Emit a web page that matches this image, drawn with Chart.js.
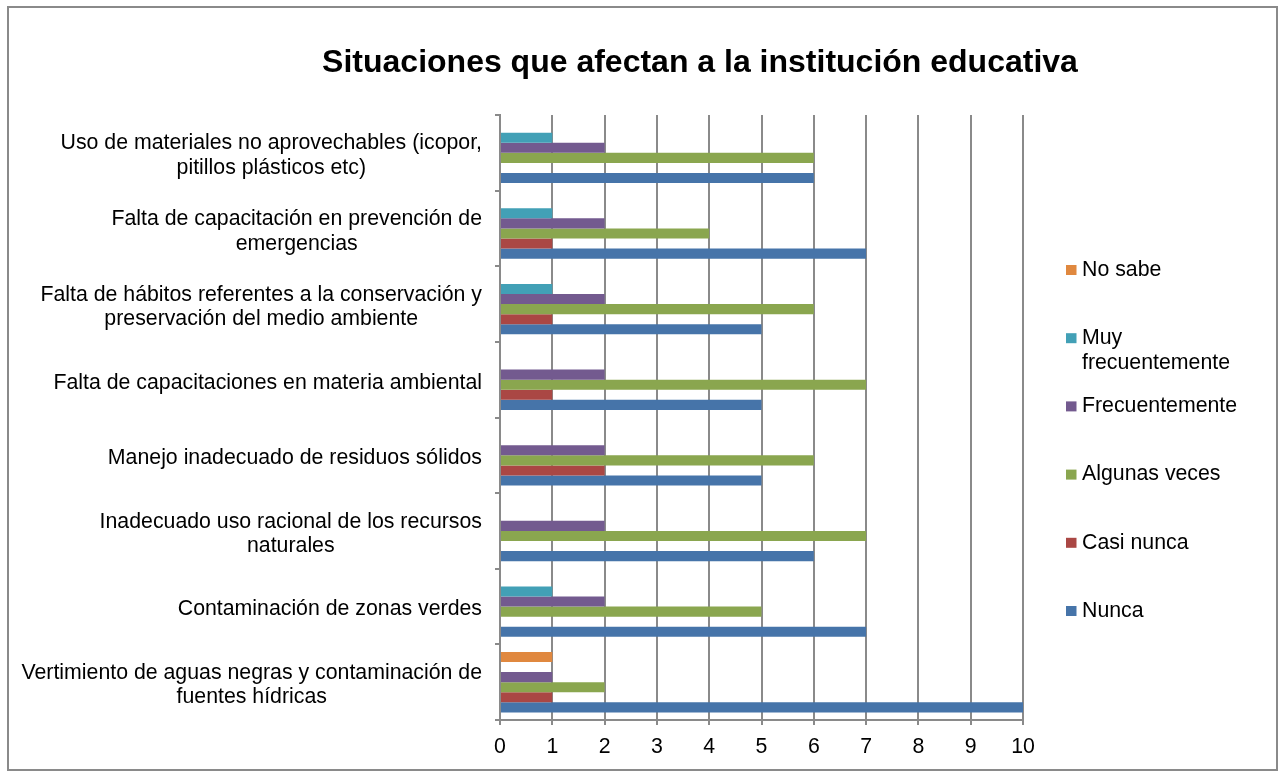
<!DOCTYPE html>
<html>
<head>
<meta charset="utf-8">
<script src="https://cdn.jsdelivr.net/npm/chart.js@4.4.1/dist/chart.umd.min.js"></script>
<style>
  html, body { margin: 0; padding: 0; background: #fff; }
  canvas { display: block; }
</style>
</head>
<body>
<canvas id="chart" width="1284" height="772"></canvas>
<script>
const chartTitle = "Situaciones que afectan a la institución educativa";

// categories, top to bottom as drawn
const categories = [
  ["Uso de materiales no aprovechables (icopor,", "pitillos plásticos etc)"],
  ["Falta de capacitación en prevención de", "emergencias"],
  ["Falta de hábitos referentes a la conservación y", "preservación del medio ambiente"],
  ["Falta de capacitaciones en materia ambiental"],
  ["Manejo inadecuado de residuos sólidos"],
  ["Inadecuado uso racional de los recursos", "naturales"],
  ["Contaminación de zonas verdes"],
  ["Vertimiento de aguas negras y contaminación de", "fuentes hídricas"]
];

const noSabe            = [0, 0, 0, 0, 0, 0, 0, 1];
const muyFrecuentemente = [1, 1, 1, 0, 0, 0, 1, 0];
const frecuentemente    = [2, 2, 2, 2, 2, 2, 2, 1];
const algunasVeces      = [6, 4, 6, 7, 6, 7, 5, 2];
const casiNunca         = [0, 1, 1, 1, 2, 0, 0, 1];
const nunca             = [6, 7, 5, 5, 5, 6, 7, 10];

const seriesNames = ["No sabe", "Muy frecuentemente", "Frecuentemente", "Algunas veces", "Casi nunca", "Nunca"];
const legendLines = [["No sabe"], ["Muy", "frecuentemente"], ["Frecuentemente"], ["Algunas veces"], ["Casi nunca"], ["Nunca"]];
const seriesColors = ["#E0883F", "#42A0B6", "#735A8F", "#8AA64F", "#AA4744", "#4674A9"];

const FONT = '"Liberation Sans", Arial, sans-serif';
const AXIS_GREY = "#8a8a8a";

// frame, title, category labels and legend drawn around the chart area
const decorations = {
  id: "decorations",
  beforeDraw(chart) {
    const ctx = chart.ctx;
    ctx.save();
    ctx.fillStyle = "#fff";
    ctx.fillRect(0, 0, chart.width, chart.height);
    ctx.strokeStyle = AXIS_GREY;
    ctx.lineWidth = 2;
    ctx.strokeRect(8, 7, 1269, 763);
    ctx.restore();
  },
  afterDraw(chart) {
    const ctx = chart.ctx;
    const area = chart.chartArea;
    const yScale = chart.scales.y;
    ctx.save();
    ctx.fillStyle = "#000";

    ctx.font = "bold 32px " + FONT;
    ctx.textAlign = "center";
    ctx.textBaseline = "alphabetic";
    ctx.fillText(chartTitle, 700, 72);

    // category labels: block right-aligned to the axis, lines centred within the block
    ctx.font = "21.3px " + FONT;
    ctx.textBaseline = "middle";
    const lh = 24.5;
    categories.forEach((lines, i) => {
      const cy = yScale.getPixelForValue(i) + 3;
      const w = Math.max(...lines.map(l => ctx.measureText(l).width));
      const cx = area.left - 18 - w / 2;
      lines.forEach((l, k) => {
        ctx.fillText(l, cx, cy + (k - (lines.length - 1) / 2) * lh);
      });
    });

    // legend
    ctx.textAlign = "left";
    const lx = area.right + 43;
    const top = 270;
    const step = 68.2;
    chart.data.datasets.forEach((ds, i) => {
      const my = top + i * step;
      ctx.fillStyle = ds.backgroundColor;
      ctx.fillRect(lx, my - 5, 10.5, 10);
      ctx.fillStyle = "#000";
      legendLines[i].forEach((l, k) => {
        ctx.fillText(l, lx + 16, my + k * lh);
      });
    });
    ctx.restore();
  }
};

const seriesData = [noSabe, muyFrecuentemente, frecuentemente, algunasVeces, casiNunca, nunca];

new Chart(document.getElementById("chart"), {
  type: "bar",
  data: {
    labels: categories.map(c => c.join(" ")),
    datasets: seriesNames.map((name, i) => ({
      label: name,
      data: seriesData[i],
      backgroundColor: seriesColors[i],
      borderWidth: 0,
      barPercentage: 1,
      categoryPercentage: 0.8
    }))
  },
  options: {
    indexAxis: "y",
    responsive: false,
    animation: false,
    layout: { padding: { top: 115, right: 261, bottom: 0, left: 0 } },
    plugins: {
      legend: { display: false },
      title: { display: false },
      tooltip: { enabled: false }
    },
    scales: {
      x: {
        min: 0,
        max: 10,
        ticks: { stepSize: 1, color: "#000", padding: 9, font: { family: FONT, size: 21.3 } },
        grid: { color: AXIS_GREY, lineWidth: 2, tickLength: 5 },
        border: { color: AXIS_GREY, width: 2 },
        afterFit(scale) { scale.height = 52; }
      },
      y: {
        ticks: { display: false },
        grid: { drawOnChartArea: false, offset: true, color: AXIS_GREY, lineWidth: 2, tickLength: 5 },
        border: { color: AXIS_GREY, width: 2 },
        afterFit(scale) { scale.width = 500; }
      }
    }
  },
  plugins: [decorations]
});
</script>
</body>
</html>
